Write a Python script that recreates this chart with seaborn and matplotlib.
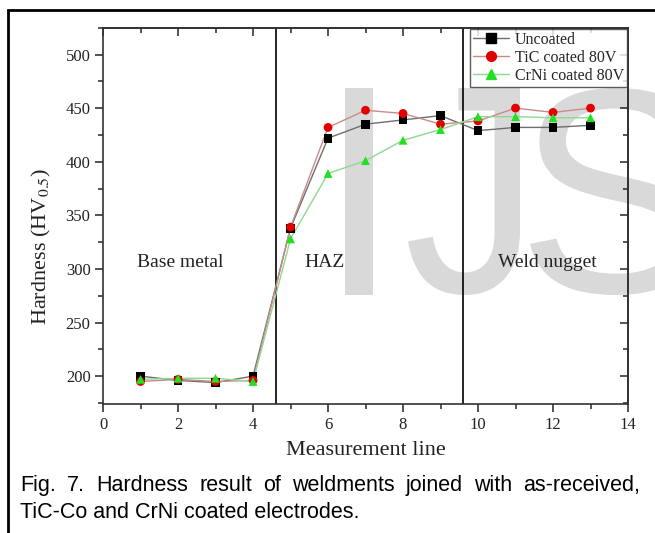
import numpy as np
import pandas as pd
import matplotlib
matplotlib.use("Agg")
import matplotlib.pyplot as plt
import seaborn as sns
from matplotlib.lines import Line2D
from matplotlib.patches import Rectangle, PathPatch
from matplotlib.textpath import TextPath
from matplotlib.font_manager import FontProperties
from matplotlib.transforms import Affine2D
from matplotlib.ticker import MultipleLocator

# ------------------------------------------------------------
# data
# ------------------------------------------------------------
positions = [1, 2, 3, 4, 5, 6, 7, 8, 9, 10, 11, 12, 13]
uncoated = [200, 196, 194, 200, 338, 422, 435, 439, 443, 429, 432, 432, 434]
tic_80v = [195, 197, 195, 196, 339, 432, 448, 445, 435, 438, 450, 446, 450]
crni_80v = [197, 198, 198, 195, 328, 389, 401, 420, 430, 442, 442, 441, 441]

series_names = ["Uncoated", "TiC coated 80V", "CrNi coated 80V"]
zone_bounds = [4.6, 9.6]
zone_labels = ["Base metal", "HAZ", "Weld nugget"]
zone_label_x = [2.05, 5.9, 11.85]

caption_1 = "Fig. 7. Hardness result of weldments joined with as-received,"
caption_2 = "TiC-Co and CrNi coated electrodes."

df = pd.DataFrame({
    "pos": positions * 3,
    "hv": uncoated + tic_80v + crni_80v,
    "series": np.repeat(series_names, len(positions)),
})

line_cols = {"Uncoated": "#6e6e6e", "TiC coated 80V": "#c98a8a", "CrNi coated 80V": "#8fd88f"}
mark_cols = {"Uncoated": "black", "TiC coated 80V": "#e00000", "CrNi coated 80V": "#22e022"}
mark_style = {"Uncoated": "s", "TiC coated 80V": "o", "CrNi coated 80V": "^"}

sns.set_theme(style="ticks")
plt.rcParams["font.family"] = ["Liberation Serif", "DejaVu Serif"]
plt.rcParams["mathtext.fontset"] = "stix"

W, H = 655, 533
fig = plt.figure(figsize=(W / 100, H / 100), dpi=100)
ax = fig.add_axes([0.1573, 0.242, 0.8015, 0.706])
ax.set_facecolor("none")

# watermark letters behind the plot: (letter, left px, right px or None)
wm_font = FontProperties(family="Liberation Sans")
wm_letters = [("I", 345, None), ("J", 408, 520), ("S", 530, None)]
wm_top, wm_bottom = 88, 295
for ch, left, right in wm_letters:
    tp = TextPath((0, 0), ch, size=100, prop=wm_font)
    ext = tp.get_extents()
    sy = (wm_bottom - wm_top) / ext.height
    sx = sy if right is None else (right - left) / ext.width
    tr = (Affine2D().translate(-ext.x0, -ext.y0).scale(sx, sy)
          .translate(left, H - wm_bottom).scale(1 / W, 1 / H) + fig.transFigure)
    fig.add_artist(PathPatch(tp, transform=tr, facecolor="#d9d9d9",
                             edgecolor="none", zorder=-5))

# frame round the figure (only top and left are visible in the crop)
fig.add_artist(Rectangle((8 / W, -0.2), 1.2, 1.2 - 10 / H, transform=fig.transFigure,
                         fill=False, lw=2, edgecolor="black", clip_on=False))

sns.lineplot(data=df, x="pos", y="hv", hue="series", palette=line_cols,
             lw=1.0, legend=False, ax=ax, zorder=2)
sns.scatterplot(data=df, x="pos", y="hv", hue="series", style="series",
                palette=mark_cols, markers=mark_style, s=40, edgecolor="none",
                legend=False, ax=ax, zorder=3)

for xb in zone_bounds:
    ax.axvline(xb, color="black", lw=1.2, zorder=1)
for lab, xl in zip(zone_labels, zone_label_x):
    ax.text(xl, 306, lab, ha="center", va="center", fontsize=14, color="#222222")

ax.set_xlim(0, 14)
ax.set_ylim(174, 525)
ax.xaxis.set_major_locator(MultipleLocator(2))
ax.xaxis.set_minor_locator(MultipleLocator(1))
ax.yaxis.set_minor_locator(MultipleLocator(25))
ax.set_yticks(np.arange(200, 501, 50))
ax.tick_params(which="major", direction="out", length=6, width=1.1, labelsize=12,
               colors="#222222", pad=3)
ax.tick_params(which="minor", direction="out", length=3.5, width=1.1)
ax.set_xlabel("Measurement line", fontsize=16, color="#222222", labelpad=6)
ax.set_ylabel("Hardness (HV$_{0.5}$)", fontsize=16, color="#222222")
ax.yaxis.set_label_coords(-0.096, 0.42)
for sp in ax.spines.values():
    sp.set_linewidth(1.2)
    sp.set_color("#333333")

# inward ticks on the top and right edges
top = ax.secondary_xaxis("top")
top.xaxis.set_major_locator(MultipleLocator(2))
top.xaxis.set_minor_locator(MultipleLocator(1))
top.tick_params(which="major", direction="in", length=6, width=1.1, labeltop=False)
top.tick_params(which="minor", direction="in", length=3.5, width=1.1)
right = ax.secondary_yaxis("right")
right.yaxis.set_major_locator(MultipleLocator(50))
right.yaxis.set_minor_locator(MultipleLocator(25))
right.tick_params(which="major", direction="in", length=6, width=1.1, labelright=False)
right.tick_params(which="minor", direction="in", length=3.5, width=1.1)

handles = [Line2D([], [], color=line_cols[n], lw=1.0, marker=mark_style[n],
                  markerfacecolor=mark_cols[n], markeredgecolor=mark_cols[n], markersize=7)
           for n in series_names]
leg = ax.legend(handles, series_names, loc="upper right", fontsize=11.5, frameon=True,
                fancybox=False, edgecolor="#333333", borderpad=0.2, labelspacing=0.12,
                handlelength=2.2, handletextpad=0.4, borderaxespad=0.05)
leg.get_frame().set_linewidth(1.0)

# justified caption
renderer = fig.canvas.get_renderer()
cap_kw = dict(fontsize=15.5, family="Liberation Sans", color="black", va="baseline")
words = caption_1.split()
x_left, x_right = 20 / W, 640 / W
y1, y2 = 1 - 491 / H, 1 - 518 / H
arts = [fig.text(0, y1, w, **cap_kw) for w in words]
widths = [a.get_window_extent(renderer).width / fig.bbox.width for a in arts]
gap = (x_right - x_left - sum(widths)) / (len(words) - 1)
xc = x_left
for a, w in zip(arts, widths):
    a.set_x(xc)
    xc += w + gap
fig.text(x_left, y2, caption_2, **cap_kw)

fig.savefig("out.png", dpi=100)
